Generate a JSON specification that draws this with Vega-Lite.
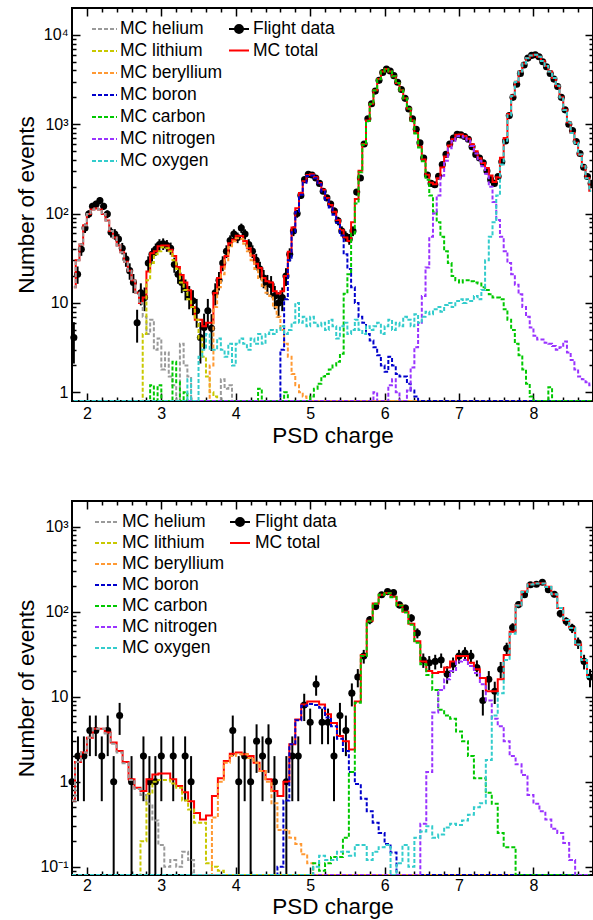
{
"$schema": "https://vega.github.io/schema/vega-lite/v6.json",
"background": "white",
"padding": {"left": 14, "top": 6, "right": 0, "bottom": 0},
"spacing": 51,
"config": {
  "font": "Liberation Sans",
  "view": {"stroke": "black", "strokeWidth": 2},
  "axis": {"domain": false, "grid": false, "labelFont": "Liberation Sans", "labelFontSize": 16, "labelColor": "black", "tickColor": "black", "tickWidth": 1.5, "titleFont": "Liberation Sans", "titleFontSize": 22.5, "titleFontWeight": "normal", "titleColor": "black", "labelOverlap": false, "labelFlush": false, "minExtent": 0},
  "legend": {"labelFont": "Liberation Sans", "labelFontSize": 17.5, "labelColor": "black", "padding": 0, "rowPadding": 0, "title": null}
},
"resolve": {"scale": {"color": "independent", "stroke": "independent", "fill": "independent"}, "legend": {"color": "independent", "stroke": "independent", "fill": "independent"}},
"vconcat": [
{
  "width": 521, "height": 393,
  "data": {"values": [
{"x":1.825,"d":4.1,"lo":2.1,"hi":6.1,"t":15,"He":15,"Li":0.01,"Be":0.01,"B":0.01,"C":0.01,"N":0.01,"O":0.01},
{"x":1.875,"d":21,"lo":16.4,"hi":25.6,"t":30,"He":30},
{"x":1.925,"d":40,"lo":33.7,"hi":46.3,"t":45,"He":45},
{"x":1.975,"d":69,"lo":60.7,"hi":77.3,"t":74,"He":74},
{"x":2.025,"d":99,"lo":89,"hi":109,"t":99,"He":99},
{"x":2.075,"d":121,"lo":110,"hi":132,"t":111,"He":111},
{"x":2.125,"d":128,"lo":116.7,"hi":139.3,"t":114,"He":114},
{"x":2.175,"d":140,"lo":128,"hi":152,"t":111,"He":111},
{"x":2.225,"d":121,"lo":110,"hi":132,"t":99,"He":99},
{"x":2.275,"d":99,"lo":89,"hi":109,"t":84,"He":84},
{"x":2.325,"d":62,"lo":54,"hi":70,"t":64,"He":64},
{"x":2.375,"d":59,"lo":51,"hi":67,"t":54,"He":54},
{"x":2.425,"d":52,"lo":45,"hi":59,"t":44,"He":44},
{"x":2.475,"d":41,"lo":35,"hi":47,"t":37,"He":37},
{"x":2.525,"d":31,"lo":25.4,"hi":36.6,"t":29,"He":29},
{"x":2.575,"d":23,"lo":18.2,"hi":27.8,"t":23,"He":23},
{"x":2.625,"d":17,"lo":12.9,"hi":21.1,"t":18,"He":18},
{"x":2.675,"d":6,"lo":3.6,"hi":8.4,"t":13,"He":13},
{"x":2.725,"d":13,"lo":9.4,"hi":16.6,"t":10,"He":10,"Li":0.01},
{"x":2.775,"d":11.5,"lo":8.1,"hi":14.9,"t":11.5,"He":7,"Li":4.5},
{"x":2.825,"d":28,"lo":22.7,"hi":33.3,"t":22.5,"He":4.5,"Li":18,"C":0.01},
{"x":2.875,"d":35,"lo":29.1,"hi":40.9,"t":36,"He":6.5,"Li":28,"C":1.2},
{"x":2.925,"d":40,"lo":33.7,"hi":46.3,"t":38,"He":3,"Li":35,"C":0.01},
{"x":2.975,"d":45,"lo":38.3,"hi":51.7,"t":43,"He":4,"Li":38,"C":1.2},
{"x":3.025,"d":46,"lo":39.2,"hi":52.8,"t":44,"He":1.8,"Li":42,"C":0.01},
{"x":3.075,"d":44,"lo":37.4,"hi":50.6,"t":44,"He":2.8,"Li":41},
{"x":3.125,"d":41,"lo":34.6,"hi":47.4,"t":39.5,"He":1.5,"Li":38,"C":0.01},
{"x":3.175,"d":27,"lo":21.8,"hi":32.2,"t":33.5,"He":1.2,"Li":30,"C":2.2},
{"x":3.225,"d":21,"lo":16.4,"hi":25.6,"t":25.3,"He":0.01,"Li":24,"C":1.3},
{"x":3.275,"d":17,"lo":12.9,"hi":21.1,"t":20.5,"He":3.5,"Li":17,"C":0.01},
{"x":3.325,"d":14.5,"lo":10.7,"hi":18.3,"t":17,"He":2,"Li":14,"C":1.0,"O":0.01},
{"x":3.375,"d":12,"lo":8.5,"hi":15.5,"t":13.9,"He":1.5,"Li":11,"C":0.01,"O":1.4},
{"x":3.425,"d":10.6,"lo":7.3,"hi":13.9,"t":9,"He":0.01,"Li":9,"O":0.01},
{"x":3.475,"d":8.2,"lo":5.3,"hi":11.1,"t":6.5,"Li":6.5,"O":0.01},
{"x":3.525,"d":4.1,"lo":2.1,"hi":6.1,"t":6.5,"Li":4,"O":2.5},
{"x":3.575,"d":5.3,"lo":3.0,"hi":7.6,"t":5.5,"Li":2.5,"O":3},
{"x":3.625,"d":8.2,"lo":5.3,"hi":11.1,"t":6,"Li":1.5,"Be":0.01,"O":4.5},
{"x":3.675,"d":5.2,"lo":2.9,"hi":7.5,"t":6,"Li":1,"Be":2,"O":3},
{"x":3.725,"d":13,"lo":9.4,"hi":16.6,"t":12.9,"Li":0.9,"Be":9,"O":3},
{"x":3.775,"d":18,"lo":13.8,"hi":22.2,"t":19,"Li":0.01,"Be":15,"O":4,"He":0.01},
{"x":3.825,"d":28,"lo":22.7,"hi":33.3,"t":25.4,"Be":21,"O":3,"He":1.4},
{"x":3.875,"d":38,"lo":31.8,"hi":44.2,"t":33.6,"Be":30,"O":2.5,"He":1.1},
{"x":3.925,"d":50,"lo":42.9,"hi":57.1,"t":46.7,"Be":42,"O":3.5,"He":1.2},
{"x":3.975,"d":59,"lo":51.3,"hi":66.7,"t":51,"Be":49,"O":2,"He":0.01},
{"x":4.025,"d":54,"lo":46.7,"hi":61.3,"t":56.5,"Be":53,"O":3.5},
{"x":4.075,"d":69,"lo":60.7,"hi":77.3,"t":56,"Be":52,"O":4},
{"x":4.125,"d":59,"lo":51.3,"hi":66.7,"t":49.5,"Be":46,"O":3.5},
{"x":4.175,"d":45,"lo":38.3,"hi":51.7,"t":41,"Be":38,"O":3},
{"x":4.225,"d":38,"lo":31.8,"hi":44.2,"t":34,"Be":30,"O":4},
{"x":4.275,"d":30,"lo":24.5,"hi":35.5,"t":27.5,"Be":24,"O":3.5,"C":0.01},
{"x":4.325,"d":24,"lo":19.1,"hi":28.9,"t":24.6,"Be":19,"O":4.5,"C":1.1},
{"x":4.375,"d":19,"lo":14.6,"hi":23.4,"t":19,"Be":15.5,"O":3.5,"C":0.01},
{"x":4.425,"d":16.5,"lo":12.4,"hi":20.6,"t":17.5,"Be":13,"O":4.5},
{"x":4.475,"d":16,"lo":12,"hi":20,"t":17,"Be":12,"O":5},
{"x":4.525,"d":12,"lo":8.5,"hi":15.5,"t":13.5,"Be":9,"O":4.5,"B":0.01},
{"x":4.575,"d":10,"lo":6.8,"hi":13.2,"t":12.8,"Be":7,"O":5,"B":0.8},
{"x":4.625,"d":11.5,"lo":8.1,"hi":14.9,"t":13.5,"Be":5,"O":5.5,"B":3,"C":0.01},
{"x":4.675,"d":20,"lo":15.5,"hi":24.5,"t":20,"Be":3.5,"O":4.5,"B":11,"C":1},
{"x":4.725,"d":35,"lo":29.1,"hi":40.9,"t":37.5,"Be":2.5,"O":5,"B":30,"C":0.01},
{"x":4.775,"d":64,"lo":56,"hi":72,"t":70,"Be":1.6,"O":6,"B":62},
{"x":4.825,"d":100,"lo":90,"hi":110,"t":115,"Be":1.2,"O":10,"B":104},
{"x":4.875,"d":160,"lo":147,"hi":173,"t":170,"Be":1,"O":6,"B":163},
{"x":4.925,"d":240,"t":230,"Be":0.9,"O":7,"B":222},
{"x":4.975,"d":275,"t":270,"Be":0.01,"O":5.5,"B":263,"C":0.01},
{"x":5.025,"d":270,"t":275,"O":7,"B":267,"C":0.9},
{"x":5.075,"d":250,"t":255,"O":6,"B":248,"C":1.1},
{"x":5.125,"d":218,"t":220,"O":5.5,"B":213,"C":1.25},
{"x":5.175,"d":178,"lo":165,"hi":191,"t":185,"O":6,"B":177,"C":1.5},
{"x":5.225,"d":150,"lo":138,"hi":162,"t":150,"O":5,"B":143,"C":1.6},
{"x":5.275,"d":128,"lo":117,"hi":139,"t":125,"O":6.5,"B":117,"C":1.8},
{"x":5.325,"d":107,"lo":97,"hi":117,"t":105,"O":5.5,"B":97,"C":2},
{"x":5.375,"d":83,"lo":74,"hi":92,"t":85,"O":4,"B":79,"C":2.2},
{"x":5.425,"d":64,"lo":56,"hi":72,"t":65,"O":5.5,"B":57,"C":2.7},
{"x":5.475,"d":56,"lo":48.5,"hi":63.5,"t":54,"O":6,"B":35,"C":12.7},
{"x":5.525,"d":52,"lo":44.8,"hi":59.2,"t":49.5,"O":4.5,"B":24,"C":21},
{"x":5.575,"d":64,"lo":56,"hi":72,"t":80,"O":5,"B":15,"C":60},
{"x":5.625,"d":174,"lo":161,"hi":187,"t":146,"O":6.5,"B":10,"C":130},
{"x":5.675,"d":250,"t":302,"O":5,"B":7,"C":290},
{"x":5.725,"d":600,"t":600,"O":4.5,"B":6,"C":590},
{"x":5.775,"d":1150,"t":1100,"O":5.5,"B":4.5,"C":1090},
{"x":5.825,"d":1700,"t":1700,"O":5,"B":3.8,"C":1690,"N":0.01},
{"x":5.875,"d":2350,"t":2400,"O":5.5,"B":3.2,"C":2390,"N":1},
{"x":5.925,"d":3100,"t":3200,"O":6,"B":2.6,"C":3190,"N":0.01},
{"x":5.975,"d":3800,"t":3900,"O":4.5,"B":2,"C":3890},
{"x":6.025,"d":4150,"t":4150,"O":5.5,"B":1.7,"C":4140,"N":0.01},
{"x":6.075,"d":3950,"t":3900,"O":6.5,"B":2.5,"C":3890,"N":1.2},
{"x":6.125,"d":3500,"t":3450,"O":5,"B":2,"C":3440,"N":1.4},
{"x":6.175,"d":2950,"t":2900,"O":6,"B":1.6,"C":2890,"N":1},
{"x":6.225,"d":2450,"t":2400,"O":5.5,"B":1.5,"C":2390,"N":0.01},
{"x":6.275,"d":1950,"t":1950,"O":7,"B":1.5,"C":1940,"N":0.01},
{"x":6.325,"d":1480,"t":1500,"O":6.5,"B":1.25,"C":1490,"N":1.05},
{"x":6.375,"d":1150,"t":1100,"O":5.5,"B":1.05,"C":1090,"N":1.9},
{"x":6.425,"d":880,"t":800,"O":7.5,"B":0.9,"C":790,"N":3.2},
{"x":6.475,"d":620,"t":560,"O":6,"B":0.01,"C":550,"N":6},
{"x":6.525,"d":420,"t":404,"O":7,"C":385,"N":12},
{"x":6.575,"d":270,"t":273,"O":8,"C":240,"N":25},
{"x":6.625,"d":218,"t":222,"O":7.5,"C":160,"N":55},
{"x":6.675,"d":210,"t":213,"O":8.5,"C":105,"N":100},
{"x":6.725,"d":262,"t":249,"O":9,"C":80,"N":160},
{"x":6.775,"d":355,"t":328,"O":8,"C":55,"N":265},
{"x":6.825,"d":460,"t":437,"O":9.5,"C":38,"N":390},
{"x":6.875,"d":600,"t":578,"O":10,"C":28,"N":540},
{"x":6.925,"d":700,"t":679,"O":9,"C":20,"N":650},
{"x":6.975,"d":770,"t":764,"O":10.5,"C":18,"N":735},
{"x":7.025,"d":760,"t":768,"O":11,"C":17,"N":740},
{"x":7.075,"d":730,"t":738,"O":10,"C":18,"N":710},
{"x":7.125,"d":680,"t":689,"O":11,"C":18,"N":660},
{"x":7.175,"d":560,"t":598,"O":10.5,"C":17.5,"N":570},
{"x":7.225,"d":460,"t":499,"O":12,"C":17,"N":470},
{"x":7.275,"d":420,"t":417,"O":11,"C":16.5,"N":390},
{"x":7.325,"d":370,"t":369,"O":14,"C":15,"N":340},
{"x":7.375,"d":300,"t":324,"O":30,"C":14,"N":280},
{"x":7.425,"d":240,"t":267,"O":55,"C":12.5,"N":200},
{"x":7.475,"d":218,"t":226,"O":80,"C":11.5,"N":135},
{"x":7.525,"d":260,"t":256,"O":160,"C":11.5,"N":85},
{"x":7.575,"d":380,"t":421,"O":355,"C":11,"N":55},
{"x":7.625,"d":650,"t":700,"O":653,"C":8.5,"N":38},
{"x":7.675,"d":1250,"t":1300,"O":1265,"C":6.5,"N":28},
{"x":7.725,"d":2000,"t":2100,"O":2074,"C":5,"N":21},
{"x":7.775,"d":2800,"t":3000,"O":2980,"C":3.5,"N":16},
{"x":7.825,"d":3700,"t":3900,"O":3885,"C":2.6,"N":12.5},
{"x":7.875,"d":4600,"t":4800,"O":4789,"C":1.8,"N":9},
{"x":7.925,"d":5500,"t":5500,"O":5492,"C":1.25,"N":7},
{"x":7.975,"d":5900,"t":5900,"O":5894,"C":0.9,"N":5.3},
{"x":8.025,"d":6000,"t":6000,"O":5996,"C":0.01,"N":4.3},
{"x":8.075,"d":5700,"t":5700,"O":5696,"N":3.9},
{"x":8.125,"d":5000,"t":5100,"O":5096,"N":3.9},
{"x":8.175,"d":4400,"t":4500,"O":4496,"C":0.01,"N":3.6},
{"x":8.225,"d":3700,"t":3900,"O":3895,"C":1.14,"N":3.5},
{"x":8.275,"d":3200,"t":3300,"O":3297,"C":0.01,"N":3.3},
{"x":8.325,"d":2650,"t":2700,"O":2697,"N":3},
{"x":8.375,"d":2000,"t":2000,"O":1997,"N":3.2},
{"x":8.425,"d":1450,"t":1450,"O":1446,"N":3.7},
{"x":8.475,"d":1000,"t":1050,"O":1047,"N":2.8},
{"x":8.525,"d":850,"t":800,"O":798,"N":2.3},
{"x":8.575,"d":640,"t":620,"O":618,"N":1.8},
{"x":8.625,"d":470,"t":460,"O":458,"N":1.5},
{"x":8.675,"d":330,"t":340,"O":339,"N":1.4},
{"x":8.725,"d":260,"t":250,"O":249,"N":1.3},
{"x":8.775,"d":218,"t":180,"O":179,"N":1.2,"He":0.01,"Li":0.01,"Be":0.01,"B":0.01,"C":0.01}
  ]},
  "resolve": {"axis": {"x": "independent", "y": "independent"}},
  "layer": [
    {
      "transform": [{"filter": "isValid(datum.lo)"}],
      "mark": {"type": "rule", "strokeWidth": 2, "color": "black", "clip": true},
      "encoding": {
        "x": {"field": "x", "type": "quantitative", "scale": {"domain": [1.8, 8.8], "nice": false, "zero": false}, "axis": null},
        "y": {"field": "lo", "type": "quantitative", "scale": {"type": "log", "domain": [0.8, 20000], "nice": false, "clamp": true}, "axis": null},
        "y2": {"field": "hi"}
      }
    },
    {
      "transform": [{"fold": ["d"], "as": ["k", "v"]}, {"filter": "isValid(datum.v)"}],
      "mark": {"type": "point", "filled": true, "shape": "circle", "size": 50, "opacity": 1},
      "encoding": {
        "x": {"field": "x", "type": "quantitative", "axis": null},
        "y": {"field": "v", "type": "quantitative", "axis": null},
        "fill": {"field": "k", "type": "nominal", "scale": {"domain": ["d"], "range": ["black"]},
          "legend": {"orient": "none", "legendX": 156, "legendY": 10.25, "symbolType": "M-1,0H1M0.4,0A0.4,0.4,0,1,1,-0.4,0A0.4,0.4,0,1,1,0.4,0", "symbolSize": 400, "symbolOpacity": 1, "clipHeight": 21.5, "labelOffset": 3, "labelExpr": "'Flight data'",
            "encode": {"symbols": {"update": {"stroke": {"value": "black"}, "strokeWidth": {"value": 2}, "fill": {"value": "black"}}}}}}
      }
    },
    {
      "transform": [{"fold": ["t"], "as": ["k", "v"]}, {"filter": "isValid(datum.v)"}],
      "mark": {"type": "line", "interpolate": "step", "strokeWidth": 2, "clip": true},
      "encoding": {
        "x": {"field": "x", "type": "quantitative", "axis": {"orient": "top", "labels": false, "title": null, "values": [2,2.2,2.4,2.6,2.8,3,3.2,3.4,3.6,3.8,4,4.2,4.4,4.6,4.8,5,5.2,5.4,5.6,5.8,6,6.2,6.4,6.6,6.8,7,7.2,7.4,7.6,7.8,8,8.2,8.4,8.6],
          "tickSize": {"condition": {"test": "abs(datum.value-round(datum.value))<0.01", "value": -8}, "value": -4}}},
        "y": {"field": "v", "type": "quantitative", "axis": {"orient": "right", "labels": false, "title": null, "values": [1,2,3,4,5,6,7,8,9,10,20,30,40,50,60,70,80,90,100,200,300,400,500,600,700,800,900,1000,2000,3000,4000,5000,6000,7000,8000,9000,10000],
          "tickSize": {"condition": {"test": "datum.value==1||datum.value==10||datum.value==100||datum.value==1000||datum.value==10000", "value": -8}, "value": -4}}},
        "color": {"field": "k", "type": "nominal", "scale": {"domain": ["t"], "range": ["#ff0000"]},
          "legend": {"orient": "none", "legendX": 156, "legendY": 31.75, "symbolType": "stroke", "symbolSize": 400, "symbolStrokeWidth": 2, "clipHeight": 21.5, "labelOffset": 3, "labelExpr": "'MC total'"}}
      }
    },
    {
      "transform": [{"fold": ["He", "Li", "Be", "B", "C", "N", "O"], "as": ["k", "v"]}, {"filter": "isValid(datum.v)"}],
      "mark": {"type": "line", "interpolate": "step", "strokeWidth": 2, "strokeDash": [4, 2], "clip": true},
      "encoding": {
        "x": {"field": "x", "type": "quantitative", "axis": {"orient": "bottom", "title": "PSD charge", "titleBaseline": "alphabetic", "titleY": 41, "labelPadding": 12,
          "values": [2,2.2,2.4,2.6,2.8,3,3.2,3.4,3.6,3.8,4,4.2,4.4,4.6,4.8,5,5.2,5.4,5.6,5.8,6,6.2,6.4,6.6,6.8,7,7.2,7.4,7.6,7.8,8,8.2,8.4,8.6],
          "labelExpr": "abs(datum.value-round(datum.value))<0.01 ? format(datum.value,'d') : ''",
          "tickSize": {"condition": {"test": "abs(datum.value-round(datum.value))<0.01", "value": -8}, "value": -4}}},
        "y": {"field": "v", "type": "quantitative", "axis": {"orient": "left", "title": "Number of events", "titleBaseline": "alphabetic", "titleX": -39, "titleY": 196.5, "labelPadding": 12,
          "values": [1,2,3,4,5,6,7,8,9,10,20,30,40,50,60,70,80,90,100,200,300,400,500,600,700,800,900,1000,2000,3000,4000,5000,6000,7000,8000,9000,10000],
          "labelExpr": "datum.value==10000?'10⁴':datum.value==1000?'10³':datum.value==100?'10²':datum.value==10?'10':datum.value==1?'1':''",
          "tickSize": {"condition": {"test": "datum.value==1||datum.value==10||datum.value==100||datum.value==1000||datum.value==10000", "value": -8}, "value": -4}}},
        "stroke": {"field": "k", "type": "nominal", "scale": {"domain": ["He", "Li", "Be", "B", "C", "N", "O"], "range": ["#9a9a9a", "#c8c800", "#ff9933", "#0000cc", "#00c800", "#9933ff", "#33cccc"]},
          "legend": {"orient": "none", "legendX": 19, "legendY": 10.25, "symbolType": "stroke", "symbolSize": 625, "symbolStrokeWidth": 2, "symbolDash": [4, 2], "clipHeight": 21.5, "labelOffset": 2,
            "labelExpr": "datum.label=='He'?'MC helium':datum.label=='Li'?'MC lithium':datum.label=='Be'?'MC beryllium':datum.label=='B'?'MC boron':datum.label=='C'?'MC carbon':datum.label=='N'?'MC nitrogen':'MC oxygen'"}}
      }
    }
  ]
},
{
  "width": 521, "height": 374,
  "data": {"values": [
{"x":1.80,"d":1,"lo":0.001,"hi":2,"t":0.6,"He":0.6,"Li":0.001,"Be":0.001,"B":0.001,"C":0.001,"N":0.001,"O":0.001},
{"x":1.88,"d":2,"lo":0.59,"hi":3.41,"t":1.7,"He":1.7},
{"x":1.96,"d":2,"lo":0.59,"hi":3.41,"t":2.2,"He":2.2},
{"x":2.04,"d":4,"lo":2,"hi":6,"t":3.3,"He":3.3},
{"x":2.12,"d":4,"lo":2,"hi":6,"t":4.2,"He":4.2},
{"x":2.20,"d":2,"lo":0.59,"hi":3.41,"t":4.2,"He":4.2},
{"x":2.28,"d":4,"lo":2,"hi":6,"t":3.8,"He":3.7},
{"x":2.36,"d":1,"lo":0.001,"hi":2,"t":2.9,"He":2.8},
{"x":2.44,"d":6,"lo":3.55,"hi":8.45,"t":2.3,"He":2.2},
{"x":2.52,"t":1.7,"He":1.65},
{"x":2.60,"d":1,"lo":0.001,"hi":2,"t":1.07,"He":1.05},
{"x":2.68,"t":0.85,"He":0.82,"Li":0.001},
{"x":2.76,"d":2,"lo":0.59,"hi":3.41,"t":0.78,"He":0.7,"Li":0.2},
{"x":2.84,"d":1,"lo":0.001,"hi":2,"t":1.07,"He":0.55,"Li":0.72},
{"x":2.92,"d":1,"lo":0.001,"hi":2,"t":1.22,"He":0.35,"Li":1.0},
{"x":3.00,"d":2,"lo":0.59,"hi":3.41,"t":1.25,"He":0.18,"Li":1.05},
{"x":3.08,"t":1.25,"He":0.1,"Li":1.05},
{"x":3.16,"d":2,"lo":0.59,"hi":3.41,"t":1.07,"He":0.12,"Li":0.95},
{"x":3.24,"t":0.89,"He":0.1,"Li":0.85},
{"x":3.32,"d":2,"lo":0.59,"hi":3.41,"t":0.75,"He":0.15,"Li":0.6},
{"x":3.40,"d":1,"lo":0.001,"hi":2,"t":0.59,"He":0.12,"Li":0.47},
{"x":3.48,"t":0.43,"He":0.001,"Li":0.33},
{"x":3.56,"t":0.36,"Li":0.33},
{"x":3.64,"t":0.4,"Li":0.11,"Be":0.001},
{"x":3.72,"t":0.68,"Li":0.1,"Be":0.38},
{"x":3.80,"t":1.1,"Li":0.09,"Be":1.0},
{"x":3.88,"t":1.75,"Li":0.001,"Be":1.67},
{"x":3.96,"d":4,"lo":2,"hi":6,"t":2.13,"Be":2.0},
{"x":4.04,"d":1,"lo":0.001,"hi":2,"t":2.2,"Be":2.1},
{"x":4.12,"d":2,"lo":0.59,"hi":3.41,"t":2.1,"Be":2.1},
{"x":4.20,"d":1,"lo":0.001,"hi":2,"t":2.0,"Be":1.9},
{"x":4.28,"d":3,"lo":1.27,"hi":4.73,"t":1.67,"Be":1.67},
{"x":4.36,"d":2,"lo":0.59,"hi":3.41,"t":1.34,"Be":1.34},
{"x":4.44,"d":3,"lo":1.27,"hi":4.73,"t":1.07,"Be":1.0},
{"x":4.52,"d":1,"lo":0.001,"hi":2,"t":0.78,"Be":0.56,"B":0.001},
{"x":4.60,"t":0.68,"Be":0.27,"B":0.1},
{"x":4.68,"d":1,"lo":0.001,"hi":2,"t":1.0,"Be":0.27,"B":0.6},
{"x":4.76,"d":2,"lo":0.59,"hi":3.41,"t":2.75,"Be":0.22,"B":2.75},
{"x":4.84,"d":2,"lo":0.59,"hi":3.41,"t":5.4,"Be":0.185,"B":5.3},
{"x":4.92,"d":8,"lo":5.17,"hi":10.83,"t":8.1,"Be":0.14,"B":7.8},
{"x":5.00,"d":5,"lo":2.76,"hi":7.24,"t":8.8,"Be":0.11,"B":8.2,"C":0.001,"O":0.001},
{"x":5.08,"d":14,"lo":10.26,"hi":17.74,"t":8.8,"Be":0.001,"B":8.0,"C":0.11,"O":0.1},
{"x":5.16,"d":5,"lo":2.76,"hi":7.24,"t":8.1,"B":7.4,"C":0.09,"O":0.135},
{"x":5.24,"d":5,"lo":2.76,"hi":7.24,"t":6.2,"B":5.7,"C":0.11,"O":0.12},
{"x":5.32,"d":2,"lo":0.59,"hi":3.41,"t":4.9,"B":4.5,"C":0.13,"O":0.12},
{"x":5.40,"d":6,"lo":3.55,"hi":8.45,"t":3.44,"B":3.2,"C":0.13,"O":0.15},
{"x":5.48,"d":4,"lo":2,"hi":6,"t":3.0,"B":2.3,"C":0.22,"O":0.15},
{"x":5.56,"d":11,"lo":7.68,"hi":14.32,"t":2.4,"B":1.3,"C":1.3,"O":0.135},
{"x":5.64,"d":17,"lo":12.88,"hi":21.12,"t":8.8,"B":0.94,"C":8.5,"O":0.18},
{"x":5.72,"d":30,"lo":24.5,"hi":35.5,"t":31,"B":0.63,"C":30,"O":0.18},
{"x":5.80,"d":80,"lo":71.1,"hi":88.9,"t":78,"B":0.45,"C":77,"O":0.12},
{"x":5.88,"d":115,"lo":104.3,"hi":125.7,"t":125,"B":0.33,"C":124,"O":0.15},
{"x":5.96,"d":158,"lo":145.4,"hi":170.6,"t":158,"B":0.25,"C":158,"O":0.17},
{"x":6.04,"d":172,"lo":158.9,"hi":185.1,"t":166,"B":0.185,"C":165,"O":0.18},
{"x":6.12,"d":168,"lo":155,"hi":181,"t":150,"B":0.147,"C":148,"O":0.001},
{"x":6.20,"d":120,"lo":109,"hi":131,"t":120,"B":0.001,"C":118,"O":0.11},
{"x":6.28,"d":110,"lo":99.5,"hi":120.5,"t":100,"C":98,"O":0.18},
{"x":6.36,"d":84,"lo":74.8,"hi":93.2,"t":72,"C":70,"O":0.1},
{"x":6.44,"d":56,"lo":48.5,"hi":63.5,"t":45,"C":43,"O":0.22,"N":0.001},
{"x":6.52,"d":27,"lo":21.8,"hi":32.2,"t":26,"C":24,"O":0.26,"N":0.32},
{"x":6.60,"d":25,"lo":20,"hi":30,"t":20,"C":18,"O":0.3,"N":1.3},
{"x":6.68,"d":26,"lo":20.9,"hi":31.1,"t":19,"C":12,"O":0.22,"N":6.5},
{"x":6.76,"d":27,"lo":21.8,"hi":32.2,"t":19.5,"C":7,"O":0.24,"N":12},
{"x":6.84,"d":18.5,"lo":14.2,"hi":22.8,"t":22,"C":6,"O":0.29,"N":16},
{"x":6.92,"d":24,"lo":19.1,"hi":28.9,"t":26,"C":5.5,"O":0.32,"N":20},
{"x":7.00,"d":30,"lo":24.5,"hi":35.5,"t":30,"C":3.9,"O":0.31,"N":26},
{"x":7.08,"d":32.5,"lo":26.8,"hi":38.2,"t":30,"C":3.0,"O":0.35,"N":27},
{"x":7.16,"d":30,"lo":24.5,"hi":35.5,"t":25,"C":2.0,"O":0.41,"N":23},
{"x":7.24,"d":22,"lo":17.3,"hi":26.7,"t":21,"C":1.1,"O":0.5,"N":19},
{"x":7.32,"d":9,"lo":6,"hi":12,"t":16.6,"C":1.1,"O":0.56,"N":14},
{"x":7.40,"d":16,"lo":12,"hi":20,"t":11.6,"C":0.74,"O":1.8,"N":9},
{"x":7.48,"d":11.6,"lo":8.2,"hi":15,"t":11.6,"C":0.55,"O":6,"N":5.5},
{"x":7.56,"d":21,"lo":16.4,"hi":25.6,"t":16,"C":0.25,"O":11,"N":4.5},
{"x":7.64,"d":37,"lo":30.9,"hi":43.1,"t":31,"C":0.17,"O":27,"N":3.0},
{"x":7.72,"d":65,"lo":56.9,"hi":73.1,"t":58,"C":0.17,"O":55,"N":2.0},
{"x":7.80,"d":121,"lo":110,"hi":132,"t":120,"C":0.001,"O":118,"N":1.6},
{"x":7.88,"d":158,"lo":145.4,"hi":170.6,"t":172,"O":170,"N":1.2},
{"x":7.96,"d":207,"lo":192.6,"hi":221.4,"t":210,"O":209,"N":0.7},
{"x":8.04,"d":210,"lo":195.5,"hi":224.5,"t":215,"O":214,"N":0.55},
{"x":8.12,"d":222,"lo":207.1,"hi":236.9,"t":215,"O":214,"N":0.45},
{"x":8.20,"d":181,"lo":167.5,"hi":194.5,"t":196,"O":195,"N":0.36},
{"x":8.28,"d":160,"lo":147.4,"hi":172.6,"t":160,"O":160,"N":0.28},
{"x":8.36,"d":95,"lo":85.3,"hi":104.7,"t":110,"O":110,"N":0.25},
{"x":8.44,"d":77,"lo":68.2,"hi":85.8,"t":80,"O":80,"N":0.19},
{"x":8.52,"d":64,"lo":56,"hi":72,"t":64,"O":64,"N":0.12},
{"x":8.60,"d":43,"lo":36.4,"hi":49.6,"t":41,"O":41,"N":0.001},
{"x":8.68,"d":26,"lo":20.9,"hi":31.1,"t":27,"O":27},
{"x":8.76,"d":17,"lo":12.9,"hi":21.1,"t":17,"O":17,"N":0.001,"He":0.001,"Li":0.001,"Be":0.001,"B":0.001,"C":0.001}
  ]},
  "resolve": {"axis": {"x": "independent", "y": "independent"}},
  "layer": [
    {
      "transform": [{"filter": "isValid(datum.lo)"}],
      "mark": {"type": "rule", "strokeWidth": 2, "color": "black", "clip": true},
      "encoding": {
        "x": {"field": "x", "type": "quantitative", "scale": {"domain": [1.8, 8.8], "nice": false, "zero": false}, "axis": null},
        "y": {"field": "lo", "type": "quantitative", "scale": {"type": "log", "domain": [0.08, 2000], "nice": false, "clamp": true}, "axis": null},
        "y2": {"field": "hi"}
      }
    },
    {
      "transform": [{"fold": ["d"], "as": ["k", "v"]}, {"filter": "isValid(datum.v)"}],
      "mark": {"type": "point", "filled": true, "shape": "circle", "size": 50, "opacity": 1},
      "encoding": {
        "x": {"field": "x", "type": "quantitative", "axis": null},
        "y": {"field": "v", "type": "quantitative", "axis": null},
        "fill": {"field": "k", "type": "nominal", "scale": {"domain": ["d"], "range": ["black"]},
          "legend": {"orient": "none", "legendX": 157, "legendY": 10.9, "symbolType": "M-1,0H1M0.4,0A0.4,0.4,0,1,1,-0.4,0A0.4,0.4,0,1,1,0.4,0", "symbolSize": 400, "symbolOpacity": 1, "clipHeight": 20.2, "labelOffset": 4, "labelExpr": "'Flight data'",
            "encode": {"symbols": {"update": {"stroke": {"value": "black"}, "strokeWidth": {"value": 2}, "fill": {"value": "black"}}}}}}
      }
    },
    {
      "transform": [{"fold": ["t"], "as": ["k", "v"]}, {"filter": "isValid(datum.v)"}],
      "mark": {"type": "line", "interpolate": "step", "strokeWidth": 2, "clip": true},
      "encoding": {
        "x": {"field": "x", "type": "quantitative", "axis": {"orient": "top", "labels": false, "title": null, "values": [2,2.2,2.4,2.6,2.8,3,3.2,3.4,3.6,3.8,4,4.2,4.4,4.6,4.8,5,5.2,5.4,5.6,5.8,6,6.2,6.4,6.6,6.8,7,7.2,7.4,7.6,7.8,8,8.2,8.4,8.6],
          "tickSize": {"condition": {"test": "abs(datum.value-round(datum.value))<0.01", "value": -8}, "value": -4}}},
        "y": {"field": "v", "type": "quantitative", "axis": {"orient": "right", "labels": false, "title": null, "values": [0.09,0.1,0.2,0.3,0.4,0.5,0.6,0.7,0.8,0.9,1,2,3,4,5,6,7,8,9,10,20,30,40,50,60,70,80,90,100,200,300,400,500,600,700,800,900,1000],
          "tickSize": {"condition": {"test": "datum.value==0.1||datum.value==1||datum.value==10||datum.value==100||datum.value==1000", "value": -8}, "value": -4}}},
        "color": {"field": "k", "type": "nominal", "scale": {"domain": ["t"], "range": ["#ff0000"]},
          "legend": {"orient": "none", "legendX": 157, "legendY": 31.9, "symbolType": "stroke", "symbolSize": 400, "symbolStrokeWidth": 2, "clipHeight": 20.2, "labelOffset": 4, "labelExpr": "'MC total'"}}
      }
    },
    {
      "transform": [{"fold": ["He", "Li", "Be", "B", "C", "N", "O"], "as": ["k", "v"]}, {"filter": "isValid(datum.v)"}],
      "mark": {"type": "line", "interpolate": "step", "strokeWidth": 2, "strokeDash": [4, 2], "clip": true},
      "encoding": {
        "x": {"field": "x", "type": "quantitative", "axis": {"orient": "bottom", "title": "PSD charge", "titleBaseline": "alphabetic", "titleY": 38, "labelPadding": 10.5,
          "values": [2,2.2,2.4,2.6,2.8,3,3.2,3.4,3.6,3.8,4,4.2,4.4,4.6,4.8,5,5.2,5.4,5.6,5.8,6,6.2,6.4,6.6,6.8,7,7.2,7.4,7.6,7.8,8,8.2,8.4,8.6],
          "labelExpr": "abs(datum.value-round(datum.value))<0.01 ? format(datum.value,'d') : ''",
          "tickSize": {"condition": {"test": "abs(datum.value-round(datum.value))<0.01", "value": -8}, "value": -4}}},
        "y": {"field": "v", "type": "quantitative", "axis": {"orient": "left", "title": "Number of events", "titleBaseline": "alphabetic", "titleX": -39, "titleY": 187, "labelPadding": 12,
          "values": [0.09,0.1,0.2,0.3,0.4,0.5,0.6,0.7,0.8,0.9,1,2,3,4,5,6,7,8,9,10,20,30,40,50,60,70,80,90,100,200,300,400,500,600,700,800,900,1000],
          "labelExpr": "datum.value==1000?'10³':datum.value==100?'10²':datum.value==10?'10':datum.value==1?'1':datum.value==0.1?'10⁻¹':''",
          "tickSize": {"condition": {"test": "datum.value==0.1||datum.value==1||datum.value==10||datum.value==100||datum.value==1000", "value": -8}, "value": -4}}},
        "stroke": {"field": "k", "type": "nominal", "scale": {"domain": ["He", "Li", "Be", "B", "C", "N", "O"], "range": ["#9a9a9a", "#c8c800", "#ff9933", "#0000cc", "#00c800", "#9933ff", "#33cccc"]},
          "legend": {"orient": "none", "legendX": 22, "legendY": 10.9, "symbolType": "stroke", "symbolSize": 484, "symbolStrokeWidth": 2, "symbolDash": [4, 2], "clipHeight": 20.2, "labelOffset": 4,
            "labelExpr": "datum.label=='He'?'MC helium':datum.label=='Li'?'MC lithium':datum.label=='Be'?'MC beryllium':datum.label=='B'?'MC boron':datum.label=='C'?'MC carbon':datum.label=='N'?'MC nitrogen':'MC oxygen'"}}
      }
    }
  ]
}
]
}
